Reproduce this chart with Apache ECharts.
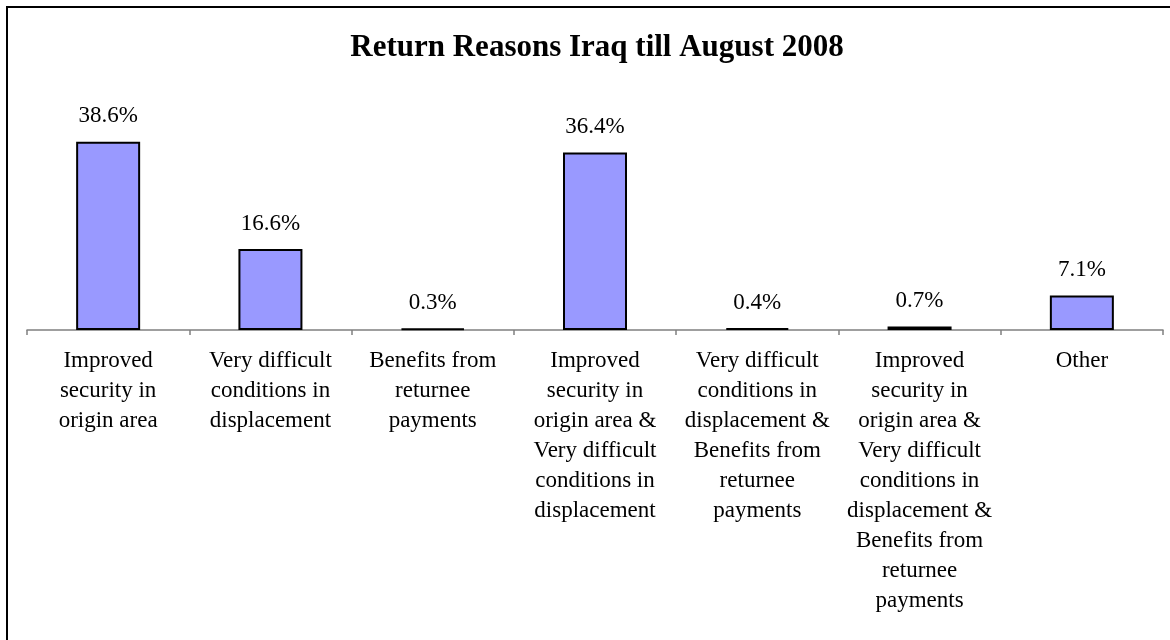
<!DOCTYPE html>
<html>
<head>
<meta charset="utf-8">
<script src="https://cdn.jsdelivr.net/npm/echarts@6/dist/echarts.min.js"></script>
<style>
  html, body { margin: 0; padding: 0; background: #fff; }
  #returnChart { width: 1170px; height: 640px; }
</style>
</head>
<body>
<div id="returnChart"></div>
<script>
// 类别（换行同原图）
var categories = [
  "Improved\nsecurity in\norigin area",
  "Very difficult\nconditions in\ndisplacement",
  "Benefits from\nreturnee\npayments",
  "Improved\nsecurity in\norigin area &\nVery difficult\nconditions in\ndisplacement",
  "Very difficult\nconditions in\ndisplacement &\nBenefits from\nreturnee\npayments",
  "Improved\nsecurity in\norigin area &\nVery difficult\nconditions in\ndisplacement &\nBenefits from\nreturnee\npayments",
  "Other"
];
// 百分比
var shares = [38.6, 16.6, 0.3, 36.4, 0.4, 0.7, 7.1];

var serif = "'Liberation Serif', 'Times New Roman', serif";

var myChart = echarts.init(document.getElementById("returnChart"));

var option = {
  backgroundColor: "#fff",
  animation: false,
  title: {
    text: "Return Reasons Iraq till August 2008",
    left: 592,
    top: 27,
    textAlign: "center",
    textStyle: {
      fontFamily: serif,
      fontWeight: "bold",
      fontSize: 31,
      color: "#000",
    },
  },
  // 外框
  graphic: [
    {
      type: "rect",
      shape: { x: 7, y: 7, width: 1300, height: 800 },
      style: { fill: "none", stroke: "#000", lineWidth: 2 },
      silent: true,
    },
  ],
  grid: {
    left: 27,
    right: 7,
    top: 135,
    bottom: 310,
  },
  xAxis: {
    type: "category",
    data: categories,
    axisLine: {
      lineStyle: { color: "#808080", width: 1.5 },
    },
    axisTick: {
      show: true,
      length: 5,
      alignWithLabel: false,
      lineStyle: { color: "#808080", width: 1.5 },
    },
    axisLabel: {
      interval: 0,
      margin: 16,
      color: "#000",
      fontFamily: serif,
      fontSize: 23,
      lineHeight: 30,
      align: "center",
    },
  },
  yAxis: {
    type: "value",
    min: 0,
    max: 40,
    show: false,
    splitLine: { show: false },
  },
  series: [
    {
      type: "bar",
      data: shares,
      barWidth: 64,
      itemStyle: {
        color: "#9999FF",
        borderColor: "#000",
        borderWidth: 2,
      },
      label: {
        show: true,
        position: "top",
        distance: 14,
        color: "#000",
        fontFamily: serif,
        fontSize: 23,
        formatter: function (p) {
          return p.value.toFixed(1) + "%";
        },
      },
    },
  ],
};

myChart.setOption(option);
</script>
</body>
</html>
